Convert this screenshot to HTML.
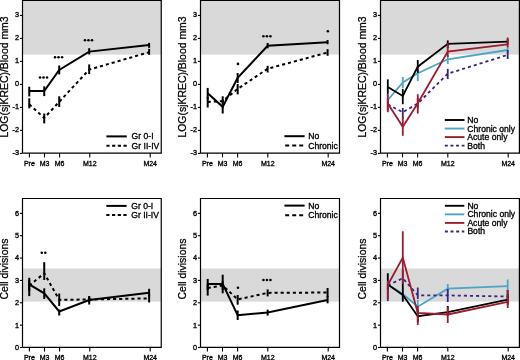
<!DOCTYPE html>
<html><head><meta charset="utf-8"><title>Figure</title><style>
html,body{margin:0;padding:0;background:#fff;width:520px;height:360px;overflow:hidden}
svg{display:block;will-change:transform}
text{font-family:"Liberation Sans",sans-serif;fill:#000}
.tl{font-size:7.3px;stroke:#000;stroke-width:0.34px}
.xl{font-size:7.0px;stroke:#000;stroke-width:0.32px}
.yl{font-size:10.45px;stroke:#000;stroke-width:0.26px}
.yl2{font-size:10.45px;stroke:#000;stroke-width:0.26px}
.lg{font-size:8.6px;stroke:#000;stroke-width:0.32px}
</style></head><body>
<svg width="520" height="360" viewBox="0 0 520 360">
<rect x="22.5" y="0.5" width="138.75" height="54.1" fill="#d9d9d9"/>
<path d="M22.5,153.2 V0.5 H161.25 V153.2 H22.5" fill="none" stroke="#000" stroke-width="1.2"/>
<line x1="19.9" y1="153.40" x2="22.5" y2="153.40" stroke="#000" stroke-width="1.1"/>
<text x="19.1" y="155.30" class="tl" text-anchor="end">-3</text>
<line x1="19.9" y1="130.40" x2="22.5" y2="130.40" stroke="#000" stroke-width="1.1"/>
<text x="19.1" y="132.30" class="tl" text-anchor="end">-2</text>
<line x1="19.9" y1="107.40" x2="22.5" y2="107.40" stroke="#000" stroke-width="1.1"/>
<text x="19.1" y="109.30" class="tl" text-anchor="end">-1</text>
<line x1="19.9" y1="84.40" x2="22.5" y2="84.40" stroke="#000" stroke-width="1.1"/>
<text x="19.1" y="86.30" class="tl" text-anchor="end">0</text>
<line x1="19.9" y1="61.40" x2="22.5" y2="61.40" stroke="#000" stroke-width="1.1"/>
<text x="19.1" y="63.30" class="tl" text-anchor="end">1</text>
<line x1="19.9" y1="38.40" x2="22.5" y2="38.40" stroke="#000" stroke-width="1.1"/>
<text x="19.1" y="40.30" class="tl" text-anchor="end">2</text>
<line x1="19.9" y1="15.40" x2="22.5" y2="15.40" stroke="#000" stroke-width="1.1"/>
<text x="19.1" y="17.30" class="tl" text-anchor="end">3</text>
<line x1="29.40" y1="153.2" x2="29.40" y2="157.39999999999998" stroke="#000" stroke-width="1.1"/>
<text x="29.40" y="165.6" class="xl" text-anchor="middle">Pre</text>
<line x1="44.50" y1="153.2" x2="44.50" y2="157.39999999999998" stroke="#000" stroke-width="1.1"/>
<text x="44.50" y="165.6" class="xl" text-anchor="middle">M3</text>
<line x1="59.60" y1="153.2" x2="59.60" y2="157.39999999999998" stroke="#000" stroke-width="1.1"/>
<text x="59.60" y="165.6" class="xl" text-anchor="middle">M6</text>
<line x1="89.80" y1="153.2" x2="89.80" y2="157.39999999999998" stroke="#000" stroke-width="1.1"/>
<text x="89.80" y="165.6" class="xl" text-anchor="middle">M12</text>
<line x1="150.19" y1="153.2" x2="150.19" y2="157.39999999999998" stroke="#000" stroke-width="1.1"/>
<text x="150.19" y="165.6" class="xl" text-anchor="middle">M24</text>
<text class="yl" transform="translate(8.1,77.00) rotate(-90)" text-anchor="middle">LOG(sjKREC)/Blood mm3</text>
<rect x="200.5" y="0.5" width="139.0" height="54.1" fill="#d9d9d9"/>
<path d="M200.5,153.2 V0.5 H339.5 V153.2 H200.5" fill="none" stroke="#000" stroke-width="1.2"/>
<line x1="197.9" y1="153.40" x2="200.5" y2="153.40" stroke="#000" stroke-width="1.1"/>
<text x="197.1" y="155.30" class="tl" text-anchor="end">-3</text>
<line x1="197.9" y1="130.40" x2="200.5" y2="130.40" stroke="#000" stroke-width="1.1"/>
<text x="197.1" y="132.30" class="tl" text-anchor="end">-2</text>
<line x1="197.9" y1="107.40" x2="200.5" y2="107.40" stroke="#000" stroke-width="1.1"/>
<text x="197.1" y="109.30" class="tl" text-anchor="end">-1</text>
<line x1="197.9" y1="84.40" x2="200.5" y2="84.40" stroke="#000" stroke-width="1.1"/>
<text x="197.1" y="86.30" class="tl" text-anchor="end">0</text>
<line x1="197.9" y1="61.40" x2="200.5" y2="61.40" stroke="#000" stroke-width="1.1"/>
<text x="197.1" y="63.30" class="tl" text-anchor="end">1</text>
<line x1="197.9" y1="38.40" x2="200.5" y2="38.40" stroke="#000" stroke-width="1.1"/>
<text x="197.1" y="40.30" class="tl" text-anchor="end">2</text>
<line x1="197.9" y1="15.40" x2="200.5" y2="15.40" stroke="#000" stroke-width="1.1"/>
<text x="197.1" y="17.30" class="tl" text-anchor="end">3</text>
<line x1="207.40" y1="153.2" x2="207.40" y2="157.39999999999998" stroke="#000" stroke-width="1.1"/>
<text x="207.40" y="165.6" class="xl" text-anchor="middle">Pre</text>
<line x1="222.50" y1="153.2" x2="222.50" y2="157.39999999999998" stroke="#000" stroke-width="1.1"/>
<text x="222.50" y="165.6" class="xl" text-anchor="middle">M3</text>
<line x1="237.60" y1="153.2" x2="237.60" y2="157.39999999999998" stroke="#000" stroke-width="1.1"/>
<text x="237.60" y="165.6" class="xl" text-anchor="middle">M6</text>
<line x1="267.80" y1="153.2" x2="267.80" y2="157.39999999999998" stroke="#000" stroke-width="1.1"/>
<text x="267.80" y="165.6" class="xl" text-anchor="middle">M12</text>
<line x1="328.19" y1="153.2" x2="328.19" y2="157.39999999999998" stroke="#000" stroke-width="1.1"/>
<text x="328.19" y="165.6" class="xl" text-anchor="middle">M24</text>
<text class="yl" transform="translate(186.1,77.00) rotate(-90)" text-anchor="middle">LOG(sjKREC)/Blood mm3</text>
<rect x="380.5" y="0.5" width="138.89999999999998" height="54.1" fill="#d9d9d9"/>
<path d="M380.5,153.2 V0.5 H519.4 V153.2 H380.5" fill="none" stroke="#000" stroke-width="1.2"/>
<line x1="377.9" y1="153.40" x2="380.5" y2="153.40" stroke="#000" stroke-width="1.1"/>
<text x="377.1" y="155.30" class="tl" text-anchor="end">-3</text>
<line x1="377.9" y1="130.40" x2="380.5" y2="130.40" stroke="#000" stroke-width="1.1"/>
<text x="377.1" y="132.30" class="tl" text-anchor="end">-2</text>
<line x1="377.9" y1="107.40" x2="380.5" y2="107.40" stroke="#000" stroke-width="1.1"/>
<text x="377.1" y="109.30" class="tl" text-anchor="end">-1</text>
<line x1="377.9" y1="84.40" x2="380.5" y2="84.40" stroke="#000" stroke-width="1.1"/>
<text x="377.1" y="86.30" class="tl" text-anchor="end">0</text>
<line x1="377.9" y1="61.40" x2="380.5" y2="61.40" stroke="#000" stroke-width="1.1"/>
<text x="377.1" y="63.30" class="tl" text-anchor="end">1</text>
<line x1="377.9" y1="38.40" x2="380.5" y2="38.40" stroke="#000" stroke-width="1.1"/>
<text x="377.1" y="40.30" class="tl" text-anchor="end">2</text>
<line x1="377.9" y1="15.40" x2="380.5" y2="15.40" stroke="#000" stroke-width="1.1"/>
<text x="377.1" y="17.30" class="tl" text-anchor="end">3</text>
<line x1="387.40" y1="153.2" x2="387.40" y2="157.39999999999998" stroke="#000" stroke-width="1.1"/>
<text x="387.40" y="165.6" class="xl" text-anchor="middle">Pre</text>
<line x1="402.50" y1="153.2" x2="402.50" y2="157.39999999999998" stroke="#000" stroke-width="1.1"/>
<text x="402.50" y="165.6" class="xl" text-anchor="middle">M3</text>
<line x1="417.60" y1="153.2" x2="417.60" y2="157.39999999999998" stroke="#000" stroke-width="1.1"/>
<text x="417.60" y="165.6" class="xl" text-anchor="middle">M6</text>
<line x1="447.80" y1="153.2" x2="447.80" y2="157.39999999999998" stroke="#000" stroke-width="1.1"/>
<text x="447.80" y="165.6" class="xl" text-anchor="middle">M12</text>
<line x1="508.19" y1="153.2" x2="508.19" y2="157.39999999999998" stroke="#000" stroke-width="1.1"/>
<text x="508.19" y="165.6" class="xl" text-anchor="middle">M24</text>
<text class="yl" transform="translate(366.1,77.00) rotate(-90)" text-anchor="middle">LOG(sjKREC)/Blood mm3</text>
<rect x="22.5" y="268.5" width="138.75" height="33.10000000000002" fill="#d9d9d9"/>
<path d="M22.5,347.4 V198.5 H161.25 V347.4 H22.5" fill="none" stroke="#000" stroke-width="1.2"/>
<line x1="19.9" y1="347.50" x2="22.5" y2="347.50" stroke="#000" stroke-width="1.1"/>
<text x="19.1" y="349.90" class="tl" text-anchor="end">0</text>
<line x1="19.9" y1="325.14" x2="22.5" y2="325.14" stroke="#000" stroke-width="1.1"/>
<text x="19.1" y="327.54" class="tl" text-anchor="end">1</text>
<line x1="19.9" y1="302.78" x2="22.5" y2="302.78" stroke="#000" stroke-width="1.1"/>
<text x="19.1" y="305.18" class="tl" text-anchor="end">2</text>
<line x1="19.9" y1="280.42" x2="22.5" y2="280.42" stroke="#000" stroke-width="1.1"/>
<text x="19.1" y="282.82" class="tl" text-anchor="end">3</text>
<line x1="19.9" y1="258.06" x2="22.5" y2="258.06" stroke="#000" stroke-width="1.1"/>
<text x="19.1" y="260.46" class="tl" text-anchor="end">4</text>
<line x1="19.9" y1="235.70" x2="22.5" y2="235.70" stroke="#000" stroke-width="1.1"/>
<text x="19.1" y="238.10" class="tl" text-anchor="end">5</text>
<line x1="19.9" y1="213.34" x2="22.5" y2="213.34" stroke="#000" stroke-width="1.1"/>
<text x="19.1" y="215.74" class="tl" text-anchor="end">6</text>
<line x1="29.40" y1="347.4" x2="29.40" y2="351.59999999999997" stroke="#000" stroke-width="1.1"/>
<text x="29.40" y="359.79999999999995" class="xl" text-anchor="middle">Pre</text>
<line x1="44.50" y1="347.4" x2="44.50" y2="351.59999999999997" stroke="#000" stroke-width="1.1"/>
<text x="44.50" y="359.79999999999995" class="xl" text-anchor="middle">M3</text>
<line x1="59.60" y1="347.4" x2="59.60" y2="351.59999999999997" stroke="#000" stroke-width="1.1"/>
<text x="59.60" y="359.79999999999995" class="xl" text-anchor="middle">M6</text>
<line x1="89.80" y1="347.4" x2="89.80" y2="351.59999999999997" stroke="#000" stroke-width="1.1"/>
<text x="89.80" y="359.79999999999995" class="xl" text-anchor="middle">M12</text>
<line x1="150.19" y1="347.4" x2="150.19" y2="351.59999999999997" stroke="#000" stroke-width="1.1"/>
<text x="150.19" y="359.79999999999995" class="xl" text-anchor="middle">M24</text>
<text class="yl2" transform="translate(8.1,269.00) rotate(-90)" text-anchor="middle">Cell divisions</text>
<rect x="200.5" y="268.5" width="139.0" height="33.10000000000002" fill="#d9d9d9"/>
<path d="M200.5,347.4 V198.5 H339.5 V347.4 H200.5" fill="none" stroke="#000" stroke-width="1.2"/>
<line x1="197.9" y1="347.50" x2="200.5" y2="347.50" stroke="#000" stroke-width="1.1"/>
<text x="197.1" y="349.90" class="tl" text-anchor="end">0</text>
<line x1="197.9" y1="325.14" x2="200.5" y2="325.14" stroke="#000" stroke-width="1.1"/>
<text x="197.1" y="327.54" class="tl" text-anchor="end">1</text>
<line x1="197.9" y1="302.78" x2="200.5" y2="302.78" stroke="#000" stroke-width="1.1"/>
<text x="197.1" y="305.18" class="tl" text-anchor="end">2</text>
<line x1="197.9" y1="280.42" x2="200.5" y2="280.42" stroke="#000" stroke-width="1.1"/>
<text x="197.1" y="282.82" class="tl" text-anchor="end">3</text>
<line x1="197.9" y1="258.06" x2="200.5" y2="258.06" stroke="#000" stroke-width="1.1"/>
<text x="197.1" y="260.46" class="tl" text-anchor="end">4</text>
<line x1="197.9" y1="235.70" x2="200.5" y2="235.70" stroke="#000" stroke-width="1.1"/>
<text x="197.1" y="238.10" class="tl" text-anchor="end">5</text>
<line x1="197.9" y1="213.34" x2="200.5" y2="213.34" stroke="#000" stroke-width="1.1"/>
<text x="197.1" y="215.74" class="tl" text-anchor="end">6</text>
<line x1="207.40" y1="347.4" x2="207.40" y2="351.59999999999997" stroke="#000" stroke-width="1.1"/>
<text x="207.40" y="359.79999999999995" class="xl" text-anchor="middle">Pre</text>
<line x1="222.50" y1="347.4" x2="222.50" y2="351.59999999999997" stroke="#000" stroke-width="1.1"/>
<text x="222.50" y="359.79999999999995" class="xl" text-anchor="middle">M3</text>
<line x1="237.60" y1="347.4" x2="237.60" y2="351.59999999999997" stroke="#000" stroke-width="1.1"/>
<text x="237.60" y="359.79999999999995" class="xl" text-anchor="middle">M6</text>
<line x1="267.80" y1="347.4" x2="267.80" y2="351.59999999999997" stroke="#000" stroke-width="1.1"/>
<text x="267.80" y="359.79999999999995" class="xl" text-anchor="middle">M12</text>
<line x1="328.19" y1="347.4" x2="328.19" y2="351.59999999999997" stroke="#000" stroke-width="1.1"/>
<text x="328.19" y="359.79999999999995" class="xl" text-anchor="middle">M24</text>
<text class="yl2" transform="translate(186.1,269.00) rotate(-90)" text-anchor="middle">Cell divisions</text>
<rect x="380.5" y="268.5" width="138.89999999999998" height="33.10000000000002" fill="#d9d9d9"/>
<path d="M380.5,347.4 V198.5 H519.4 V347.4 H380.5" fill="none" stroke="#000" stroke-width="1.2"/>
<line x1="377.9" y1="347.50" x2="380.5" y2="347.50" stroke="#000" stroke-width="1.1"/>
<text x="377.1" y="349.90" class="tl" text-anchor="end">0</text>
<line x1="377.9" y1="325.14" x2="380.5" y2="325.14" stroke="#000" stroke-width="1.1"/>
<text x="377.1" y="327.54" class="tl" text-anchor="end">1</text>
<line x1="377.9" y1="302.78" x2="380.5" y2="302.78" stroke="#000" stroke-width="1.1"/>
<text x="377.1" y="305.18" class="tl" text-anchor="end">2</text>
<line x1="377.9" y1="280.42" x2="380.5" y2="280.42" stroke="#000" stroke-width="1.1"/>
<text x="377.1" y="282.82" class="tl" text-anchor="end">3</text>
<line x1="377.9" y1="258.06" x2="380.5" y2="258.06" stroke="#000" stroke-width="1.1"/>
<text x="377.1" y="260.46" class="tl" text-anchor="end">4</text>
<line x1="377.9" y1="235.70" x2="380.5" y2="235.70" stroke="#000" stroke-width="1.1"/>
<text x="377.1" y="238.10" class="tl" text-anchor="end">5</text>
<line x1="377.9" y1="213.34" x2="380.5" y2="213.34" stroke="#000" stroke-width="1.1"/>
<text x="377.1" y="215.74" class="tl" text-anchor="end">6</text>
<line x1="387.40" y1="347.4" x2="387.40" y2="351.59999999999997" stroke="#000" stroke-width="1.1"/>
<text x="387.40" y="359.79999999999995" class="xl" text-anchor="middle">Pre</text>
<line x1="402.50" y1="347.4" x2="402.50" y2="351.59999999999997" stroke="#000" stroke-width="1.1"/>
<text x="402.50" y="359.79999999999995" class="xl" text-anchor="middle">M3</text>
<line x1="417.60" y1="347.4" x2="417.60" y2="351.59999999999997" stroke="#000" stroke-width="1.1"/>
<text x="417.60" y="359.79999999999995" class="xl" text-anchor="middle">M6</text>
<line x1="447.80" y1="347.4" x2="447.80" y2="351.59999999999997" stroke="#000" stroke-width="1.1"/>
<text x="447.80" y="359.79999999999995" class="xl" text-anchor="middle">M12</text>
<line x1="508.19" y1="347.4" x2="508.19" y2="351.59999999999997" stroke="#000" stroke-width="1.1"/>
<text x="508.19" y="359.79999999999995" class="xl" text-anchor="middle">M24</text>
<text class="yl2" transform="translate(366.1,269.00) rotate(-90)" text-anchor="middle">Cell divisions</text>
<path d="M29.25,91.00 L44.23,91.00 L59.22,70.00 L89.19,51.60 L149.13,45.00" fill="none" stroke="#000" stroke-width="2.0"/>
<line x1="29.25" y1="86.70" x2="29.25" y2="96.40" stroke="#000" stroke-width="2.0"/>
<line x1="44.23" y1="86.40" x2="44.23" y2="96.10" stroke="#000" stroke-width="2.0"/>
<line x1="59.22" y1="65.50" x2="59.22" y2="74.40" stroke="#000" stroke-width="2.0"/>
<line x1="89.19" y1="48.20" x2="89.19" y2="54.40" stroke="#000" stroke-width="2.0"/>
<line x1="149.13" y1="42.90" x2="149.13" y2="47.80" stroke="#000" stroke-width="2.0"/>
<path d="M29.25,104.30 L44.23,118.00 L59.22,101.80 L89.19,69.60 L149.13,52.20" fill="none" stroke="#000" stroke-width="2.0" stroke-dasharray="3.1,3"/>
<line x1="29.25" y1="98.30" x2="29.25" y2="108.30" stroke="#000" stroke-width="2.0"/>
<line x1="44.23" y1="113.50" x2="44.23" y2="123.40" stroke="#000" stroke-width="2.0"/>
<line x1="59.22" y1="96.30" x2="59.22" y2="107.00" stroke="#000" stroke-width="2.0"/>
<line x1="89.19" y1="64.40" x2="89.19" y2="74.00" stroke="#000" stroke-width="2.0"/>
<line x1="149.13" y1="48.90" x2="149.13" y2="54.90" stroke="#000" stroke-width="2.0"/>
<circle cx="40.03" cy="77.50" r="1.3" fill="#000"/>
<circle cx="43.53" cy="77.50" r="1.3" fill="#000"/>
<circle cx="47.03" cy="77.50" r="1.3" fill="#000"/>
<circle cx="55.02" cy="57.30" r="1.3" fill="#000"/>
<circle cx="58.52" cy="57.30" r="1.3" fill="#000"/>
<circle cx="62.02" cy="57.30" r="1.3" fill="#000"/>
<circle cx="84.99" cy="40.30" r="1.3" fill="#000"/>
<circle cx="88.49" cy="40.30" r="1.3" fill="#000"/>
<circle cx="91.99" cy="40.30" r="1.3" fill="#000"/>
<line x1="106.4" y1="136.40" x2="126.8" y2="136.40" stroke="#000" stroke-width="2.0"/>
<text x="131.6" y="139.40" class="lg">Gr 0-I</text>
<line x1="106.4" y1="145.70" x2="126.8" y2="145.70" stroke="#000" stroke-width="2.0" stroke-dasharray="3.2,2.5"/>
<text x="131.6" y="148.70" class="lg">Gr II-IV</text>
<path d="M207.70,93.30 L222.69,106.80 L237.67,77.80 L267.64,45.80 L327.58,42.20" fill="none" stroke="#000" stroke-width="2.0"/>
<line x1="207.70" y1="87.90" x2="207.70" y2="99.00" stroke="#000" stroke-width="2.0"/>
<line x1="222.69" y1="99.50" x2="222.69" y2="113.50" stroke="#000" stroke-width="2.0"/>
<line x1="237.67" y1="73.10" x2="237.67" y2="83.00" stroke="#000" stroke-width="2.0"/>
<line x1="267.64" y1="43.00" x2="267.64" y2="48.30" stroke="#000" stroke-width="2.0"/>
<line x1="327.58" y1="40.00" x2="327.58" y2="44.20" stroke="#000" stroke-width="2.0"/>
<path d="M207.70,102.00 L222.69,101.00 L237.67,88.90 L267.64,68.70 L327.58,52.50" fill="none" stroke="#000" stroke-width="2.0" stroke-dasharray="3.1,3"/>
<line x1="207.70" y1="97.00" x2="207.70" y2="107.50" stroke="#000" stroke-width="2.0"/>
<line x1="222.69" y1="96.30" x2="222.69" y2="103.00" stroke="#000" stroke-width="2.0"/>
<line x1="237.67" y1="84.00" x2="237.67" y2="94.40" stroke="#000" stroke-width="2.0"/>
<line x1="267.64" y1="65.80" x2="267.64" y2="72.50" stroke="#000" stroke-width="2.0"/>
<line x1="327.58" y1="49.20" x2="327.58" y2="55.80" stroke="#000" stroke-width="2.0"/>
<circle cx="237.97" cy="63.90" r="1.3" fill="#000"/>
<circle cx="263.44" cy="36.20" r="1.3" fill="#000"/>
<circle cx="266.94" cy="36.20" r="1.3" fill="#000"/>
<circle cx="270.44" cy="36.20" r="1.3" fill="#000"/>
<circle cx="327.88" cy="31.30" r="1.3" fill="#000"/>
<line x1="284.4" y1="136.20" x2="304.6" y2="136.20" stroke="#000" stroke-width="2.0"/>
<text x="308.2" y="139.20" class="lg">No</text>
<line x1="285.2" y1="145.60" x2="303.2" y2="145.60" stroke="#000" stroke-width="2.0" stroke-dasharray="4,3"/>
<text x="308.2" y="148.60" class="lg">Chronic</text>
<path d="M387.80,100.00 L402.79,82.50 L417.77,73.30 L447.74,59.30 L507.68,50.00" fill="none" stroke="#4aa5c8" stroke-width="1.8"/>
<line x1="387.80" y1="94.00" x2="387.80" y2="106.00" stroke="#4aa5c8" stroke-width="1.8"/>
<line x1="402.79" y1="77.00" x2="402.79" y2="88.00" stroke="#4aa5c8" stroke-width="1.8"/>
<line x1="417.77" y1="70.00" x2="417.77" y2="81.00" stroke="#4aa5c8" stroke-width="1.8"/>
<line x1="447.74" y1="55.00" x2="447.74" y2="64.00" stroke="#4aa5c8" stroke-width="1.8"/>
<line x1="507.68" y1="46.50" x2="507.68" y2="53.50" stroke="#4aa5c8" stroke-width="1.8"/>
<path d="M387.80,87.00 L402.79,96.00 L417.77,66.70 L447.74,43.90 L507.68,41.70" fill="none" stroke="#000" stroke-width="1.8"/>
<line x1="387.80" y1="79.40" x2="387.80" y2="93.90" stroke="#000" stroke-width="1.8"/>
<line x1="402.79" y1="88.90" x2="402.79" y2="104.20" stroke="#000" stroke-width="1.8"/>
<line x1="417.77" y1="60.00" x2="417.77" y2="73.00" stroke="#000" stroke-width="1.8"/>
<line x1="447.74" y1="40.40" x2="447.74" y2="48.00" stroke="#000" stroke-width="1.8"/>
<line x1="507.68" y1="39.00" x2="507.68" y2="44.50" stroke="#000" stroke-width="1.8"/>
<path d="M387.80,104.50 L402.79,112.20 L417.77,103.50 L447.74,73.70 L507.68,54.90" fill="none" stroke="#38237e" stroke-width="1.8" stroke-dasharray="3.1,3"/>
<line x1="387.80" y1="99.00" x2="387.80" y2="110.00" stroke="#38237e" stroke-width="1.8"/>
<line x1="402.79" y1="108.00" x2="402.79" y2="118.50" stroke="#38237e" stroke-width="1.8"/>
<line x1="417.77" y1="98.00" x2="417.77" y2="108.00" stroke="#38237e" stroke-width="1.8"/>
<line x1="447.74" y1="68.90" x2="447.74" y2="79.00" stroke="#38237e" stroke-width="1.8"/>
<line x1="507.68" y1="50.00" x2="507.68" y2="59.00" stroke="#38237e" stroke-width="1.8"/>
<path d="M387.80,103.50 L402.79,126.80 L417.77,103.20 L447.74,51.50 L507.68,44.40" fill="none" stroke="#9c1b2e" stroke-width="1.8"/>
<line x1="387.80" y1="94.20" x2="387.80" y2="112.20" stroke="#9c1b2e" stroke-width="1.8"/>
<line x1="402.79" y1="117.00" x2="402.79" y2="135.80" stroke="#9c1b2e" stroke-width="1.8"/>
<line x1="417.77" y1="94.20" x2="417.77" y2="113.60" stroke="#9c1b2e" stroke-width="1.8"/>
<line x1="447.74" y1="43.20" x2="447.74" y2="57.00" stroke="#9c1b2e" stroke-width="1.8"/>
<line x1="507.68" y1="37.50" x2="507.68" y2="47.20" stroke="#9c1b2e" stroke-width="1.8"/>
<line x1="444.8" y1="120.00" x2="464.5" y2="120.00" stroke="#000" stroke-width="1.9"/>
<text x="467.3" y="123.00" class="lg">No</text>
<line x1="444.8" y1="128.55" x2="464.5" y2="128.55" stroke="#4aa5c8" stroke-width="1.9"/>
<text x="467.3" y="131.55" class="lg">Chronic only</text>
<line x1="444.8" y1="137.10" x2="464.5" y2="137.10" stroke="#9c1b2e" stroke-width="1.9"/>
<text x="467.3" y="140.10" class="lg">Acute only</text>
<line x1="444.8" y1="145.65" x2="464.5" y2="145.65" stroke="#38237e" stroke-width="1.9" stroke-dasharray="3,2.63"/>
<text x="467.3" y="148.65" class="lg">Both</text>
<path d="M29.25,284.40 L44.23,293.30 L59.22,311.50 L89.19,300.10 L149.13,292.80" fill="none" stroke="#000" stroke-width="2.0"/>
<line x1="29.25" y1="277.80" x2="29.25" y2="296.10" stroke="#000" stroke-width="2.0"/>
<line x1="44.23" y1="288.30" x2="44.23" y2="298.90" stroke="#000" stroke-width="2.0"/>
<line x1="59.22" y1="309.50" x2="59.22" y2="315.50" stroke="#000" stroke-width="2.0"/>
<line x1="89.19" y1="296.00" x2="89.19" y2="304.50" stroke="#000" stroke-width="2.0"/>
<line x1="149.13" y1="288.80" x2="149.13" y2="296.00" stroke="#000" stroke-width="2.0"/>
<path d="M29.25,285.60 L44.23,273.30 L59.22,299.80 L89.19,299.50 L149.13,298.40" fill="none" stroke="#000" stroke-width="2.0" stroke-dasharray="3.1,3"/>
<line x1="29.25" y1="280.00" x2="29.25" y2="291.00" stroke="#000" stroke-width="2.0"/>
<line x1="44.23" y1="262.20" x2="44.23" y2="280.00" stroke="#000" stroke-width="2.0"/>
<line x1="59.22" y1="293.50" x2="59.22" y2="306.00" stroke="#000" stroke-width="2.0"/>
<line x1="89.19" y1="296.50" x2="89.19" y2="302.50" stroke="#000" stroke-width="2.0"/>
<line x1="149.13" y1="295.00" x2="149.13" y2="302.50" stroke="#000" stroke-width="2.0"/>
<circle cx="41.78" cy="252.80" r="1.3" fill="#000"/>
<circle cx="45.28" cy="252.80" r="1.3" fill="#000"/>
<line x1="106.3" y1="205.90" x2="126.6" y2="205.90" stroke="#000" stroke-width="2.0"/>
<text x="131.3" y="208.90" class="lg">Gr 0-I</text>
<line x1="106.3" y1="214.90" x2="126.6" y2="214.90" stroke="#000" stroke-width="2.0" stroke-dasharray="3.2,2.5"/>
<text x="131.3" y="217.90" class="lg">Gr II-IV</text>
<path d="M207.70,283.90 L222.69,283.90 L237.67,315.30 L267.64,312.40 L327.58,299.90" fill="none" stroke="#000" stroke-width="2.0"/>
<line x1="207.70" y1="278.90" x2="207.70" y2="290.00" stroke="#000" stroke-width="2.0"/>
<line x1="222.69" y1="274.70" x2="222.69" y2="293.30" stroke="#000" stroke-width="2.0"/>
<line x1="237.67" y1="310.50" x2="237.67" y2="320.00" stroke="#000" stroke-width="2.0"/>
<line x1="267.64" y1="309.60" x2="267.64" y2="315.60" stroke="#000" stroke-width="2.0"/>
<line x1="327.58" y1="296.00" x2="327.58" y2="303.30" stroke="#000" stroke-width="2.0"/>
<path d="M207.70,288.00 L222.69,285.50 L237.67,299.40 L267.64,292.90 L327.58,292.50" fill="none" stroke="#000" stroke-width="2.0" stroke-dasharray="3.1,3"/>
<line x1="207.70" y1="284.00" x2="207.70" y2="295.60" stroke="#000" stroke-width="2.0"/>
<line x1="222.69" y1="281.00" x2="222.69" y2="290.00" stroke="#000" stroke-width="2.0"/>
<line x1="237.67" y1="295.00" x2="237.67" y2="304.70" stroke="#000" stroke-width="2.0"/>
<line x1="267.64" y1="289.40" x2="267.64" y2="296.40" stroke="#000" stroke-width="2.0"/>
<line x1="327.58" y1="288.00" x2="327.58" y2="297.00" stroke="#000" stroke-width="2.0"/>
<circle cx="237.97" cy="287.80" r="1.3" fill="#000"/>
<circle cx="263.44" cy="280.00" r="1.3" fill="#000"/>
<circle cx="266.94" cy="280.00" r="1.3" fill="#000"/>
<circle cx="270.44" cy="280.00" r="1.3" fill="#000"/>
<line x1="284.4" y1="205.60" x2="304.6" y2="205.60" stroke="#000" stroke-width="2.0"/>
<text x="308.2" y="208.60" class="lg">No</text>
<line x1="285.2" y1="215.20" x2="303.2" y2="215.20" stroke="#000" stroke-width="2.0" stroke-dasharray="4,3"/>
<text x="308.2" y="218.20" class="lg">Chronic</text>
<path d="M387.80,284.50 L402.79,294.00 L417.77,306.70 L447.74,288.70 L507.68,286.20" fill="none" stroke="#4aa5c8" stroke-width="1.8"/>
<line x1="387.80" y1="273.00" x2="387.80" y2="280.00" stroke="#4aa5c8" stroke-width="1.8"/>
<line x1="402.79" y1="288.00" x2="402.79" y2="300.00" stroke="#4aa5c8" stroke-width="1.8"/>
<line x1="417.77" y1="300.00" x2="417.77" y2="312.00" stroke="#4aa5c8" stroke-width="1.8"/>
<line x1="447.74" y1="284.00" x2="447.74" y2="293.00" stroke="#4aa5c8" stroke-width="1.8"/>
<line x1="507.68" y1="279.50" x2="507.68" y2="293.00" stroke="#4aa5c8" stroke-width="1.8"/>
<path d="M387.80,285.30 L402.79,278.20 L417.77,295.30 L447.74,295.40 L507.68,296.50" fill="none" stroke="#3a2484" stroke-width="1.8" stroke-dasharray="3.1,3"/>
<line x1="387.80" y1="288.00" x2="387.80" y2="301.10" stroke="#3a2484" stroke-width="1.8"/>
<line x1="402.79" y1="270.00" x2="402.79" y2="283.00" stroke="#3a2484" stroke-width="1.8"/>
<line x1="417.77" y1="287.50" x2="417.77" y2="299.00" stroke="#3a2484" stroke-width="1.8"/>
<line x1="447.74" y1="289.00" x2="447.74" y2="302.00" stroke="#3a2484" stroke-width="1.8"/>
<line x1="507.68" y1="290.00" x2="507.68" y2="303.00" stroke="#3a2484" stroke-width="1.8"/>
<path d="M387.80,284.40 L402.79,295.00 L417.77,316.20 L447.74,312.20 L507.68,299.70" fill="none" stroke="#000" stroke-width="1.8"/>
<line x1="387.80" y1="273.30" x2="387.80" y2="290.00" stroke="#000" stroke-width="1.8"/>
<line x1="402.79" y1="283.00" x2="402.79" y2="301.70" stroke="#000" stroke-width="1.8"/>
<line x1="417.77" y1="310.00" x2="417.77" y2="322.00" stroke="#000" stroke-width="1.8"/>
<line x1="447.74" y1="306.00" x2="447.74" y2="316.00" stroke="#000" stroke-width="1.8"/>
<line x1="507.68" y1="294.00" x2="507.68" y2="305.00" stroke="#000" stroke-width="1.8"/>
<path d="M387.80,285.00 L402.79,257.60 L417.77,313.00 L447.74,314.50 L507.68,301.90" fill="none" stroke="#9c1b2e" stroke-width="1.8"/>
<line x1="387.80" y1="281.00" x2="387.80" y2="299.00" stroke="#9c1b2e" stroke-width="1.8"/>
<line x1="402.79" y1="231.30" x2="402.79" y2="284.00" stroke="#9c1b2e" stroke-width="1.8"/>
<line x1="417.77" y1="306.00" x2="417.77" y2="325.00" stroke="#9c1b2e" stroke-width="1.8"/>
<line x1="447.74" y1="307.00" x2="447.74" y2="323.00" stroke="#9c1b2e" stroke-width="1.8"/>
<line x1="507.68" y1="290.00" x2="507.68" y2="308.00" stroke="#9c1b2e" stroke-width="1.8"/>
<line x1="444.9" y1="205.80" x2="464.3" y2="205.80" stroke="#000" stroke-width="1.9"/>
<text x="467.4" y="208.80" class="lg">No</text>
<line x1="444.9" y1="214.35" x2="464.3" y2="214.35" stroke="#4aa5c8" stroke-width="1.9"/>
<text x="467.4" y="217.35" class="lg">Chronic only</text>
<line x1="444.9" y1="222.90" x2="464.3" y2="222.90" stroke="#9c1b2e" stroke-width="1.9"/>
<text x="467.4" y="225.90" class="lg">Acute only</text>
<line x1="444.9" y1="231.45" x2="464.3" y2="231.45" stroke="#3a2484" stroke-width="1.9" stroke-dasharray="3,2.63"/>
<text x="467.4" y="234.45" class="lg">Both</text>
</svg></body></html>
